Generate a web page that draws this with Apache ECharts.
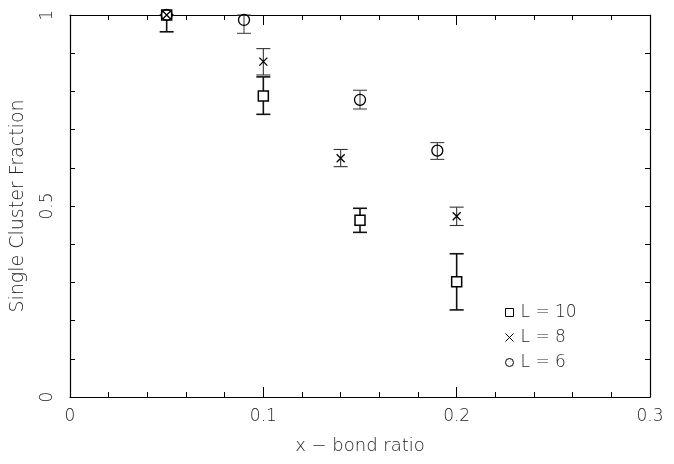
<!DOCTYPE html>
<html><head><meta charset="utf-8">
<script src="https://cdn.jsdelivr.net/npm/echarts@6/dist/echarts.min.js"></script>
<style>html,body{margin:0;padding:0;background:#fff}#c{width:674px;height:464px}</style>
</head><body><div id="c"></div>
<script>
const xL10 = [0.05, 0.10, 0.15, 0.20];
const yL10 = [1.0, 0.788, 0.463, 0.302];
const loL10 = [0.956, 0.740, 0.431, 0.228];
const hiL10 = [1.0, 0.838, 0.494, 0.375];

const xL8 = [0.05, 0.10, 0.14, 0.20];
const yL8 = [1.0, 0.878, 0.625, 0.473];
const loL8 = [1.0, 0.843, 0.603, 0.449];
const hiL8 = [1.0, 0.912, 0.648, 0.497];

const xL6 = [0.05, 0.09, 0.15, 0.19];
const yL6 = [1.0, 0.987, 0.778, 0.645];
const loL6 = [1.0, 0.952, 0.754, 0.622];
const hiL6 = [1.0, 1.0, 0.803, 0.666];

const xTicks = ['0', '0.1', '0.2', '0.3'];
const yTicks = ['0', '0.5', '1'];

const FONT = 'DejaVu Sans';
const FW = 300;
const TXT = '#222';
const crossPath = 'path://M0,0L10,10M10,0L0,10';

function errData(xs, lo, hi) { return xs.map((x, i) => [x, lo[i], hi[i]]); }
function ptData(xs, ys) { return xs.map((x, i) => [x, ys[i]]); }

function errSeries(name, xs, lo, hi, color, w) {
  return {
    type: 'custom', name: name, data: errData(xs, lo, hi), z: 2,
    renderItem: function (params, api) {
      const x = api.value(0);
      const p1 = api.coord([x, api.value(1)]);
      const p2 = api.coord([x, api.value(2)]);
      const hw = 7;
      if (Math.abs(p1[1] - p2[1]) < 0.5) return null;
      const st = { stroke: color, lineWidth: w };
      return {
        type: 'group', children: [
          { type: 'line', shape: { x1: p1[0], y1: p1[1], x2: p2[0], y2: p2[1] }, style: st },
          { type: 'line', shape: { x1: p1[0] - hw, y1: p1[1], x2: p1[0] + hw, y2: p1[1] }, style: st },
          { type: 'line', shape: { x1: p2[0] - hw, y1: p2[1], x2: p2[0] + hw, y2: p2[1] }, style: st }
        ]
      };
    }
  };
}

const lineSt = { show: true, onZero: false, lineStyle: { color: '#000', width: 1.2 } };
const tickSt = (len) => ({ show: true, inside: true, length: len, lineStyle: { color: '#000' } });
const minorSt = { show: true, splitNumber: 5, length: 5, lineStyle: { color: '#000' } };

const chart = echarts.init(document.getElementById('c'));
chart.setOption({
  animation: false,
  backgroundColor: '#fff',
  grid: { left: 70, right: 24, top: 15, bottom: 67 },
  legend: {
    orient: 'vertical', left: 498, top: 299, itemGap: 8, itemWidth: 8, itemHeight: 8,
    textStyle: { fontFamily: FONT, fontWeight: FW, fontSize: 17, color: TXT, padding: [0, 0, 0, 2] },
    data: [
      { name: 'L = 10', icon: 'rect', itemStyle: { color: 'none', borderColor: '#000', borderWidth: 1 } },
      { name: 'L = 8', icon: crossPath, itemStyle: { color: 'none', borderColor: '#000', borderWidth: 1 } },
      { name: 'L = 6', icon: 'circle', itemStyle: { color: 'none', borderColor: '#000', borderWidth: 1 } }
    ]
  },
  xAxis: [
    {
      type: 'value', min: 0, max: 0.3, interval: 0.1, position: 'bottom',
      name: 'x \u2212 bond ratio', nameLocation: 'middle', nameGap: 40,
      nameTextStyle: { fontFamily: FONT, fontWeight: FW, fontSize: 18, color: TXT },
      axisLine: lineSt, splitLine: { show: false },
      axisTick: tickSt(10), minorTick: minorSt,
      axisLabel: { fontFamily: FONT, fontWeight: FW, fontSize: 17, color: TXT, margin: 11,
        formatter: v => xTicks[Math.round(v * 10)] }
    },
    {
      type: 'value', min: 0, max: 0.3, interval: 0.1, position: 'top',
      axisLine: lineSt, splitLine: { show: false },
      axisTick: tickSt(10), minorTick: minorSt,
      axisLabel: { show: false }
    }
  ],
  yAxis: [
    {
      type: 'value', min: 0, max: 1, interval: 0.5, position: 'left',
      name: 'Single Cluster Fraction', nameLocation: 'middle', nameGap: 42,
      nameTextStyle: { fontFamily: FONT, fontWeight: FW, fontSize: 19, color: TXT },
      axisLine: lineSt, splitLine: { show: false },
      axisTick: tickSt(5), minorTick: minorSt,
      axisLabel: { fontFamily: FONT, fontWeight: FW, fontSize: 17, color: TXT, rotate: 90, margin: 14,
        formatter: v => yTicks[Math.round(v * 2)] }
    },
    {
      type: 'value', min: 0, max: 1, interval: 0.5, position: 'right',
      axisLine: lineSt, splitLine: { show: false },
      axisTick: tickSt(5), minorTick: minorSt,
      axisLabel: { show: false }
    }
  ],
  series: [
    errSeries('L = 10', xL10, loL10, hiL10, '#111', 1.6),
    errSeries('L = 8', xL8, loL8, hiL8, '#333', 1.1),
    errSeries('L = 6', xL6, loL6, hiL6, '#444', 1.1),
    { type: 'scatter', name: 'L = 10', data: ptData(xL10, yL10), symbol: 'rect', symbolSize: 10, z: 3,
      itemStyle: { color: '#fff', borderColor: '#000', borderWidth: 1.5, opacity: 1 } },
    { type: 'scatter', name: 'L = 8', data: ptData(xL8, yL8), symbol: crossPath, symbolSize: 8, z: 4,
      itemStyle: { color: 'none', borderColor: '#000', borderWidth: 1.3, opacity: 1 } },
    { type: 'scatter', name: 'L = 6', data: ptData(xL6, yL6), symbol: 'circle', symbolSize: 11, z: 3,
      itemStyle: { color: 'none', borderColor: '#000', borderWidth: 1.3, opacity: 1 } }
  ]
});
</script></body></html>
